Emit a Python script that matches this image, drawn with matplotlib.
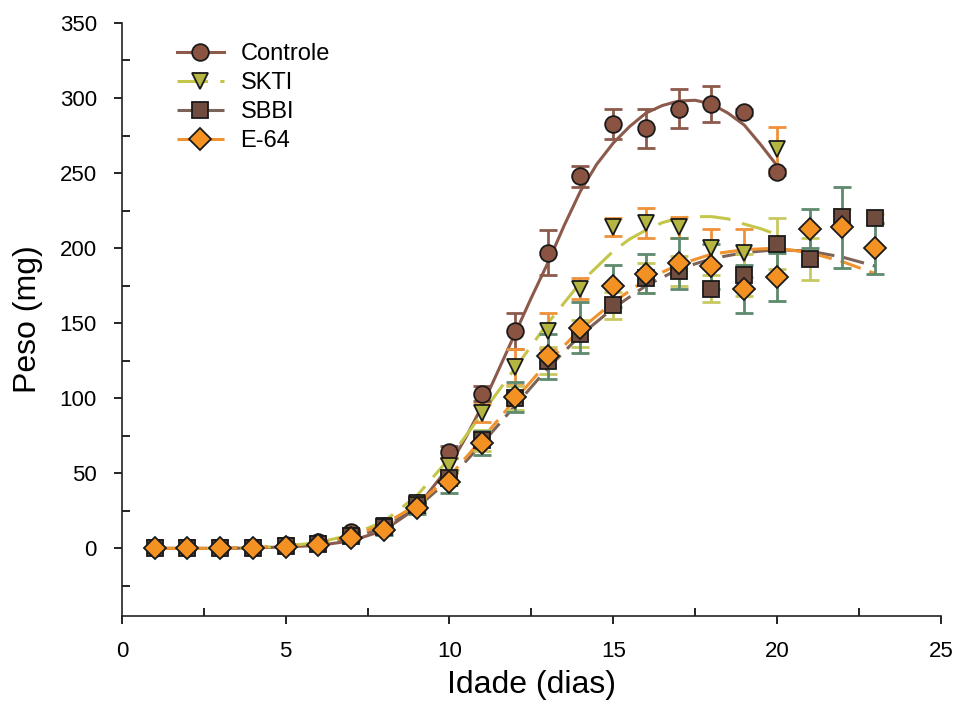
import numpy as np
import matplotlib
matplotlib.use('Agg')
import matplotlib.pyplot as plt
from matplotlib.lines import Line2D
from matplotlib.ticker import MultipleLocator

plt.rcParams['font.family'] = ['Liberation Sans', 'DejaVu Sans']

# Days of measurement
dias_controle = list(range(1, 21))
dias_skti = list(range(1, 21))
dias_sbbi = list(range(1, 24))
dias_e64 = list(range(1, 24))

# Mean weights (mg)
peso_controle = [0, 0, 0, 1, 2, 4, 11, 15, 30, 64, 103, 145, 197, 248, 283, 280, 293, 296, 291, 251]
peso_skti = [0, 0, 0, 0.5, 1.5, 3, 8, 15, 30, 55, 90, 121, 145, 173, 214, 217, 214, 200, 197, 266]
peso_sbbi = [0, 0, 0, 0.5, 1.5, 3, 8, 14, 29, 47, 72, 100, 125, 143, 162, 180, 185, 173, 182, 203, 193, 221, 220]
peso_e64 = [0, 0, 0, 0.5, 1, 2, 7, 12, 27, 44, 70, 101, 128, 147, 175, 183, 190, 188, 173, 181, 213, 214, 200]

# Standard errors
erro_controle = [0.5, 0.5, 0.5, 0.5, 1, 1, 2, 2, 3, 4, 5, 12, 15, 7, 10, 13, 13, 12, 2, 2]
erro_skti = [0.5, 0.5, 0.5, 0.5, 1, 1, 2, 3, 4, 5, 6, 12, 12, 7, 6, 10, 7, 13, 16, 15]
erro_sbbi = [0.5, 0.5, 0.5, 0.5, 1, 1, 2, 3, 4, 5, 7, 8, 9, 9, 9, 10, 10, 9, 14, 17, 14, 5, 3]
erro_e64 = [0.5, 0.5, 0.5, 0.5, 1, 1, 2, 3, 4, 7, 8, 10, 15, 17, 14, 13, 17, 15, 16, 16, 13, 27, 17]

# Fitted growth curves
x_aj_controle = [1, 2, 3, 4, 5, 6, 7, 8, 9, 10, 10.5, 11, 11.5, 12, 12.5, 13, 13.5, 14, 14.5,
                 15, 15.5, 16, 16.5, 17, 17.5, 18, 18.5, 19, 19.5, 20]
ajuste_controle = [0, 0, 0, 0.3, 1, 2, 5, 12, 27, 55, 74, 95, 119, 143, 167, 190, 215, 238, 256,
                   270, 281, 290, 295, 298, 298.5, 296, 290, 282, 269, 255]
x_aj_skti = [1, 2, 3, 4, 5, 6, 7, 8, 9, 10, 11, 12, 13, 14, 15, 15.5, 16, 16.5, 17, 17.5,
             18, 18.5, 19, 19.5, 20]
ajuste_skti = [0, 0, 0, 0.5, 1.5, 4, 9, 18, 35, 60, 90, 120, 150, 177, 198, 206, 212, 217, 220, 221,
               221, 219.5, 216, 213, 209]
x_aj_sbbi = list(range(1, 24))
ajuste_sbbi = [0, 0, 0, 0.5, 1, 3, 7, 14, 27, 46, 70, 95, 120, 142, 160, 175, 186, 193, 197, 199, 198, 194, 188]
x_aj_e64 = list(range(1, 24))
ajuste_e64 = [0, 0, 0, 0.5, 1.5, 3.5, 8, 16, 29, 48, 73, 99, 124, 146, 164, 179, 189, 196, 199, 200, 197, 191, 183]

series = [
    # name, x, y, err, fit x, fit y, line color, dashes, marker, size, fill, errbar color
    ('Controle', dias_controle, peso_controle, erro_controle, x_aj_controle, ajuste_controle,
     '#8c5a4b', None, 'o', 12, '#8b5442', '#8c5a4b'),
    ('SKTI', dias_skti, peso_skti, erro_skti, x_aj_skti, ajuste_skti,
     '#c4c64a', (10, 4), 'v', 12, '#b5b642', '#f0923a'),
    ('SBBI', dias_sbbi, peso_sbbi, erro_sbbi, x_aj_sbbi, ajuste_sbbi,
     '#7b6357', (7, 3), 's', 11, '#6f4c3e', '#c8c860'),
    ('E-64', dias_e64, peso_e64, erro_e64, x_aj_e64, ajuste_e64,
     '#f0922e', (7, 3), 'D', 11, '#f39223', '#5e8a6e'),
]

fig = plt.figure(figsize=(9.58, 7.17), dpi=100)
ax = fig.add_axes([0.1273, 0.1409, 0.8547, 0.8271])

handles = []
for nome, x, y, err, fx, fy, lc, dash, mk, ms, mfc, ec in series:
    ln, = ax.plot(fx, fy, color=lc, lw=2.2, zorder=2)
    if dash is not None:
        ln.set_dashes(dash)
for nome, x, y, err, fx, fy, lc, dash, mk, ms, mfc, ec in series:
    ax.errorbar(x, y, yerr=err, fmt='none', ecolor=ec, elinewidth=2,
                capsize=6.5, capthick=2, zorder=3)
for nome, x, y, err, fx, fy, lc, dash, mk, ms, mfc, ec in series:
    ax.plot(x, y, linestyle='none', marker=mk, markersize=ms,
            markerfacecolor=mfc, markeredgecolor='#1a1a1a', markeredgewidth=1.3,
            zorder=4)
    h = Line2D([], [], color=lc, lw=2.2, marker=mk, markersize=ms,
               markerfacecolor=mfc, markeredgecolor='#1a1a1a', markeredgewidth=1.3)
    if dash is not None:
        h.set_dashes(dash)
    handles.append(h)

ax.legend(handles, [s[0] for s in series], loc='upper left',
          bbox_to_anchor=(0.067, 0.966), frameon=False, fontsize=17,
          handlelength=2.0, labelspacing=0.3, handletextpad=0.7,
          borderpad=0, borderaxespad=0)

ax.set_xlim(0, 25)
ax.set_ylim(-45, 350)
ax.xaxis.set_major_locator(MultipleLocator(5))
ax.xaxis.set_minor_locator(MultipleLocator(2.5))
ax.yaxis.set_major_locator(MultipleLocator(50))
ax.yaxis.set_minor_locator(MultipleLocator(25))
ax.set_yticks([0, 50, 100, 150, 200, 250, 300, 350])
ax.tick_params(axis='both', which='major', direction='out', length=6, width=1.2,
               labelsize=16)
ax.tick_params(axis='x', which='major', pad=12)
ax.tick_params(axis='y', which='major', pad=12)
ax.tick_params(axis='both', which='minor', direction='in', length=6, width=1.2)
for s in ['top', 'right']:
    ax.spines[s].set_visible(False)
for s in ['left', 'bottom']:
    ax.spines[s].set_linewidth(1.2)
    ax.spines[s].set_color('#222222')

ax.set_xlabel('Idade (dias)', fontsize=23, labelpad=6)
ax.set_ylabel('Peso (mg)', fontsize=23, labelpad=12)

fig.savefig('out.png', dpi=100)
